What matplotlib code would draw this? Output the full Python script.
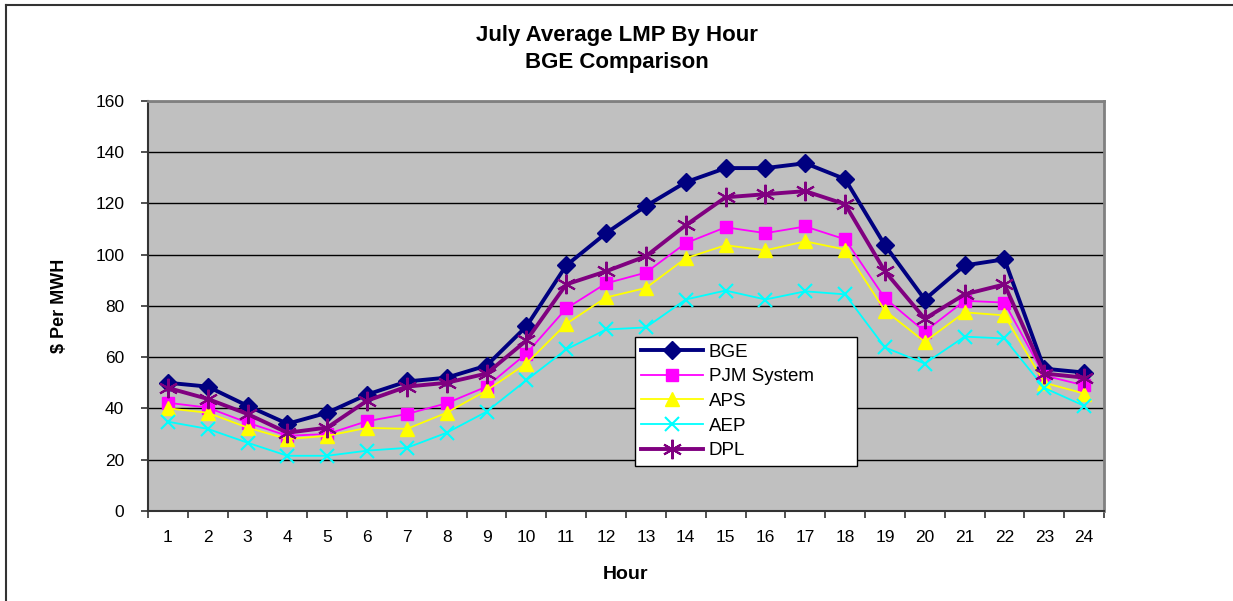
import numpy as np
import matplotlib
matplotlib.use('Agg')
import matplotlib.pyplot as plt
from matplotlib.lines import Line2D

plt.rcParams['font.family'] = ['Liberation Sans', 'DejaVu Sans']

hours = list(range(1, 25))
bge = [50, 48.5, 41, 34, 38.3, 45.4, 50.5, 52, 56.7, 72, 95.8, 108.4,
       119, 128.3, 133.8, 133.8, 135.7, 129.5, 103.7, 82.5, 95.8, 98.2, 55.5, 54]
pjm = [42.2, 40.3, 34.4, 29.3, 30, 35, 37.8, 42, 48.5, 61.4, 79, 88.8,
       93, 104.5, 110.7, 108.4, 111, 106, 83, 70, 82, 81.3, 52.8, 49]
aps = [40, 38.3, 32.5, 28, 29.3, 32.4, 32, 38.3, 47, 57.5, 73, 83.3,
       87, 98.6, 103.7, 101.7, 105.2, 102, 78.2, 66, 77.5, 76.3, 50, 45.8]
aep = [34.8, 32, 26.6, 21.5, 21.5, 23.5, 24.6, 30.5, 38.7, 51, 63, 70.8,
       71.6, 82.5, 86, 82.5, 85.7, 84.5, 63.8, 57.5, 68, 67.3, 48, 41]
dpl = [48, 43.7, 37.8, 30.5, 32.5, 43, 48.5, 50, 53.6, 66.5, 88.4, 93.5,
       99.4, 111.5, 122.4, 123.6, 124.8, 119.7, 93.5, 75, 84.5, 88.4, 53.6, 52]

fig = plt.figure(figsize=(12.33, 6.01), dpi=100)
ax = fig.add_axes([0.120, 0.150, 0.7754, 0.682])
ax.set_facecolor('#C0C0C0')

ax.plot(hours, bge, color='#000080', lw=2.8, marker='D', ms=9, label='BGE')
ax.plot(hours, pjm, color='#FF00FF', lw=1.3, marker='s', ms=9, label='PJM System')
ax.plot(hours, aps, color='#FFFF00', lw=1.3, marker='^', ms=10, label='APS')
ax.plot(hours, aep, color='#00FFFF', lw=1.3, marker='x', ms=10, mew=1.5, label='AEP')
ax.plot(hours, dpl, color='#800080', lw=2.8, marker=(6, 2, 0), ms=14, mew=1.5, label='DPL')

ax.set_xlim(0.5, 24.5)
ax.set_ylim(0, 160)
ax.set_yticks(np.arange(0, 161, 20))
ax.yaxis.grid(True, color='black', lw=1)
ax.set_axisbelow(True)

ax.set_xticks(np.arange(0.5, 24.6, 1))
ax.set_xticklabels([])
ax.set_xticks(hours, minor=True)
ax.set_xticklabels([str(h) for h in hours], minor=True)
ax.tick_params(axis='x', which='major', length=5, width=1.2, color='#333333')
ax.tick_params(axis='x', which='minor', length=0, pad=14, labelsize=12.5)
ax.tick_params(axis='y', length=5, width=1.2, color='#333333', pad=12, labelsize=12.5)

for s in ['top', 'right']:
    ax.spines[s].set_color('#808080')
    ax.spines[s].set_linewidth(2)
for s in ['left', 'bottom']:
    ax.spines[s].set_color('#333333')
    ax.spines[s].set_linewidth(1.5)

ax.set_xlabel('Hour', fontsize=14, fontweight='bold', labelpad=15)
ax.set_ylabel('$ Per MWH', fontsize=13, fontweight='bold', labelpad=20)

fig.text(0.5005, 0.918, 'July Average LMP By Hour\nBGE Comparison', ha='center', va='center',
         fontsize=16, fontweight='bold', linespacing=1.35)

leg = ax.legend(loc='lower left', bbox_to_anchor=(0.509, 0.110, 0.233, 0.349), mode='expand',
                fontsize=13.5, handlelength=3.3, labelspacing=0.4, borderpad=0.35,
                handletextpad=0.3, borderaxespad=0, fancybox=False, framealpha=1,
                edgecolor='black')
leg.get_frame().set_linewidth(1)

# outer chart border (top and left only visible)
fig.add_artist(Line2D([6 / 1233, 1], [1 - 5 / 601, 1 - 5 / 601], color='#333333', lw=1.5,
                      transform=fig.transFigure))
fig.add_artist(Line2D([6 / 1233, 6 / 1233], [0, 1 - 5 / 601], color='#333333', lw=1.5,
                      transform=fig.transFigure))

fig.savefig('out.png', dpi=100)
